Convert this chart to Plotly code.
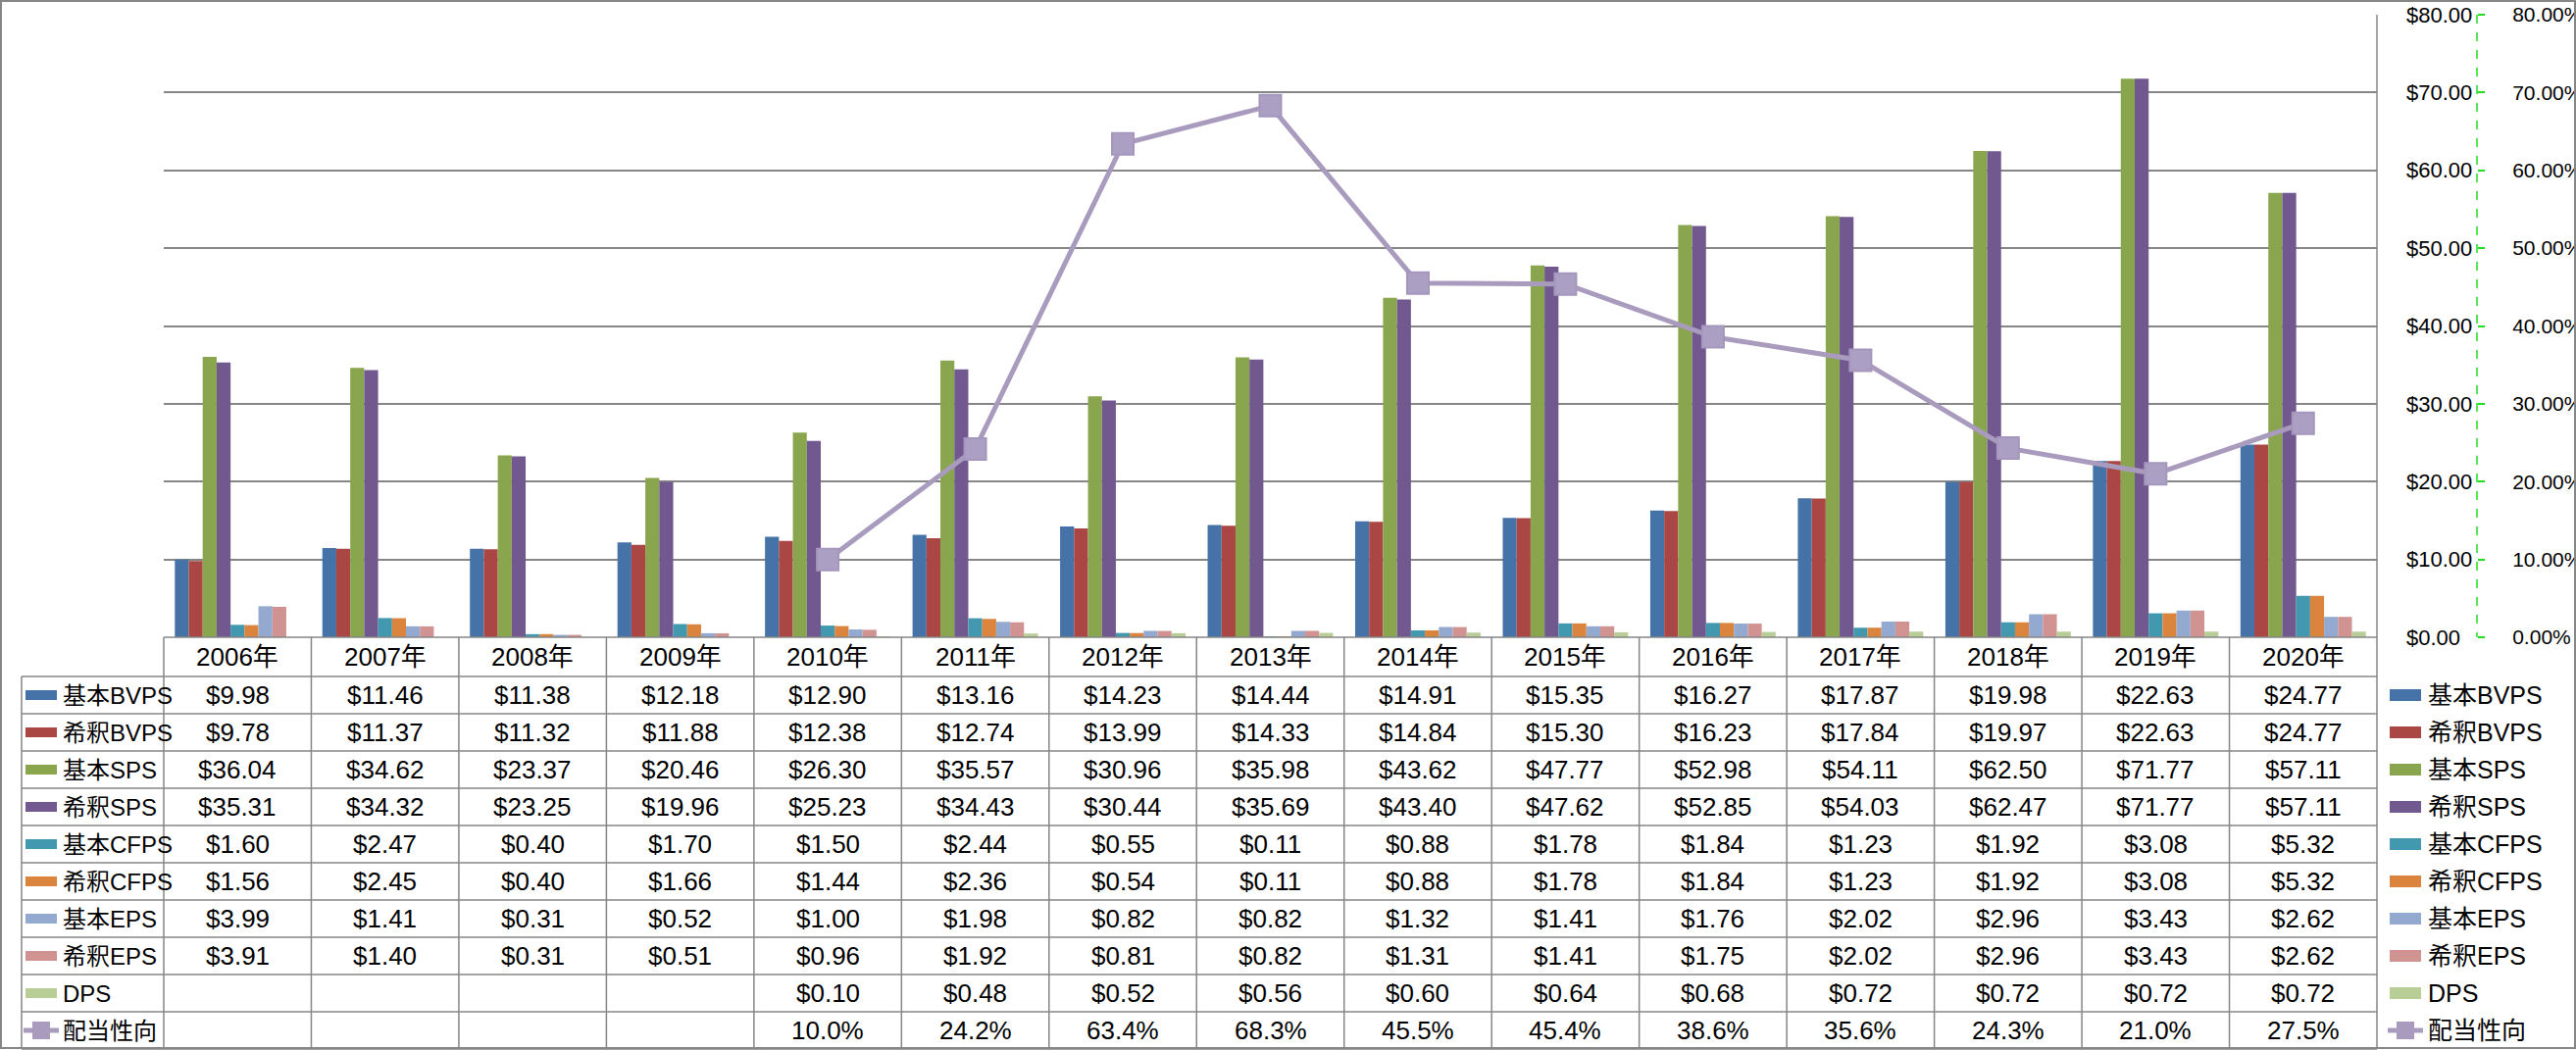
import plotly.graph_objects as go

W, H = 2627, 1071

years = ["2006年", "2007年", "2008年", "2009年", "2010年", "2011年", "2012年", "2013年",
         "2014年", "2015年", "2016年", "2017年", "2018年", "2019年", "2020年"]

bvps_basic = [9.98, 11.46, 11.38, 12.18, 12.90, 13.16, 14.23, 14.44, 14.91, 15.35, 16.27, 17.87, 19.98, 22.63, 24.77]
bvps_dil = [9.78, 11.37, 11.32, 11.88, 12.38, 12.74, 13.99, 14.33, 14.84, 15.30, 16.23, 17.84, 19.97, 22.63, 24.77]
sps_basic = [36.04, 34.62, 23.37, 20.46, 26.30, 35.57, 30.96, 35.98, 43.62, 47.77, 52.98, 54.11, 62.50, 71.77, 57.11]
sps_dil = [35.31, 34.32, 23.25, 19.96, 25.23, 34.43, 30.44, 35.69, 43.40, 47.62, 52.85, 54.03, 62.47, 71.77, 57.11]
cfps_basic = [1.60, 2.47, 0.40, 1.70, 1.50, 2.44, 0.55, 0.11, 0.88, 1.78, 1.84, 1.23, 1.92, 3.08, 5.32]
cfps_dil = [1.56, 2.45, 0.40, 1.66, 1.44, 2.36, 0.54, 0.11, 0.88, 1.78, 1.84, 1.23, 1.92, 3.08, 5.32]
eps_basic = [3.99, 1.41, 0.31, 0.52, 1.00, 1.98, 0.82, 0.82, 1.32, 1.41, 1.76, 2.02, 2.96, 3.43, 2.62]
eps_dil = [3.91, 1.40, 0.31, 0.51, 0.96, 1.92, 0.81, 0.82, 1.31, 1.41, 1.75, 2.02, 2.96, 3.43, 2.62]
dps = [None, None, None, None, 0.10, 0.48, 0.52, 0.56, 0.60, 0.64, 0.68, 0.72, 0.72, 0.72, 0.72]
payout = [None, None, None, None, 10.0, 24.2, 63.4, 68.3, 45.5, 45.4, 38.6, 35.6, 24.3, 21.0, 27.5]

bar_names = ["基本BVPS", "希釈BVPS", "基本SPS", "希釈SPS", "基本CFPS", "希釈CFPS", "基本EPS", "希釈EPS", "DPS"]
bar_values = [bvps_basic, bvps_dil, sps_basic, sps_dil, cfps_basic, cfps_dil, eps_basic, eps_dil, dps]
bar_colors = ["#4572A7", "#AA4643", "#89A54E", "#71588F", "#4198AF", "#DB843D", "#93A9CF", "#D19392", "#B9CD96"]
line_name = "配当性向"
line_color = "#A99BBD"

GRID = "#868686"
TFONT = "Liberation Sans Narrow, Liberation Sans, Noto Sans CJK JP"
AFONT = "Liberation Sans, Noto Sans CJK JP"


def fx(p):
    return p / W


def fy(p):
    return 1 - p / H


# pixel layout of plot and table
PL, PR, PT, PB = 167, 2424, 15, 650
TL = 22
HDR_B = 690
ROW_H = 38

fig = go.Figure()
for name, vals, col in zip(bar_names, bar_values, bar_colors):
    fig.add_trace(go.Bar(x=years, y=vals, name=name, marker_color=col, marker_line_width=0))

fig.add_trace(go.Scatter(
    x=years, y=[p / 100 if p is not None else None for p in payout],
    name=line_name, yaxis="y2", mode="lines+markers",
    line=dict(color=line_color, width=5),
    marker=dict(symbol="square", size=22, color="#AB9FC3", line=dict(color="#A596BD", width=2)),
))

shapes = []
annos = []


def hline(x0, x1, y, color=GRID, width=1.5, dash=None):
    shapes.append(dict(type="line", xref="paper", yref="paper", x0=fx(x0), x1=fx(x1), y0=fy(y), y1=fy(y),
                       line=dict(color=color, width=width, dash=dash)))


def vline(x, y0, y1, color=GRID, width=1.5, dash=None):
    shapes.append(dict(type="line", xref="paper", yref="paper", x0=fx(x), x1=fx(x), y0=fy(y0), y1=fy(y1),
                       line=dict(color=color, width=width, dash=dash)))


def label(x, xref, y, text, family, size, xanchor="center"):
    annos.append(dict(x=x, xref=xref, y=fy(y), yref="paper", text=text, showarrow=False,
                      xanchor=xanchor, yanchor="middle",
                      font=dict(family=family, size=size, color="black")))


# outer frame
shapes.append(dict(type="rect", xref="paper", yref="paper", x0=fx(1), x1=fx(2626), y0=fy(1), y1=fy(1069),
                   line=dict(color=GRID, width=2)))

n_rows = len(bar_names) + 1
bottom = HDR_B + ROW_H * n_rows
# table grid
hline(PL, PR, PB)
for r in range(n_rows + 1):
    hline(TL, PR, HDR_B + ROW_H * r)
vline(TL, HDR_B, bottom)
vline(PL, PB, bottom)
vline(PR, PT, bottom)
for i in range(1, len(years)):
    shapes.append(dict(type="line", xref="x", yref="paper", x0=i - 0.5, x1=i - 0.5, y0=fy(PB), y1=fy(bottom),
                       line=dict(color=GRID, width=1.5)))

# secondary axis line (dashed green)
vline(2526, PT, PB, color="#22DD22", width=1.5, dash="dash")

# header row
for i, yr in enumerate(years):
    label(i, "x", (PB + HDR_B) / 2, yr, TFONT, 26)

# data rows
row_names = bar_names + [line_name]
row_colors = bar_colors + [line_color]
row_vals = bar_values + [payout]
for r, (name, col, vals) in enumerate(zip(row_names, row_colors, row_vals)):
    yc = HDR_B + ROW_H * r + ROW_H / 2
    for i, v in enumerate(vals):
        if v is None:
            continue
        txt = f"{v:.1f}%" if name == line_name else f"${v:.2f}"
        label(i, "x", yc, txt, TFONT, 26)
    # left key + label, then right-hand legend
    for sx, tx, fam, fs, sh in [(26, 62, TFONT, 24, 5), (2437, 2474, AFONT, 25, 6)]:
        if name == line_name:
            shapes.append(dict(type="line", xref="paper", yref="paper", x0=fx(sx - 2), x1=fx(sx + 34),
                               y0=fy(yc), y1=fy(yc), line=dict(color=col, width=5)))
            shapes.append(dict(type="rect", xref="paper", yref="paper", x0=fx(sx + 7), x1=fx(sx + 25),
                               y0=fy(yc - 9), y1=fy(yc + 9), fillcolor=col, line=dict(width=0)))
        else:
            shapes.append(dict(type="rect", xref="paper", yref="paper", x0=fx(sx), x1=fx(sx + 32),
                               y0=fy(yc - sh), y1=fy(yc + sh), fillcolor=col, line=dict(width=0)))
        label(fx(tx), "paper", yc, name, fam, fs, xanchor="left")

fig.update_layout(
    width=W, height=H,
    margin=dict(l=0, r=0, t=0, b=0),
    paper_bgcolor="white", plot_bgcolor="white",
    barmode="group", bargap=0.15, bargroupgap=0,
    showlegend=False,
    font=dict(family=AFONT, size=22, color="black"),
    xaxis=dict(domain=[fx(PL), fx(PR)], type="category", range=[-0.5, len(years) - 0.5],
               showticklabels=False, showgrid=False, zeroline=False, showline=False, ticks=""),
    yaxis=dict(domain=[fy(PB), fy(PT)], range=[0, 80], dtick=10, side="right", tickprefix="$",
               tickformat=".2f", showgrid=True, gridcolor=GRID, gridwidth=1.5, zeroline=False,
               showline=False, ticks="", ticklabelstandoff=29, automargin=False),
    yaxis2=dict(overlaying="y", anchor="free", position=fx(2526), side="right", range=[0, 0.8],
                dtick=0.1, tickformat=".2%", showgrid=False, zeroline=False, showline=False,
                ticks="outside", ticklen=7, tickcolor="#22DD22", tickwidth=1.5,
                ticklabelstandoff=24, automargin=False, tickfont=dict(size=21)),
    shapes=shapes,
    annotations=annos,
)

fig.write_html("out.html", config={"displayModeBar": False},
               post_script="document.body.style.margin='0';")
